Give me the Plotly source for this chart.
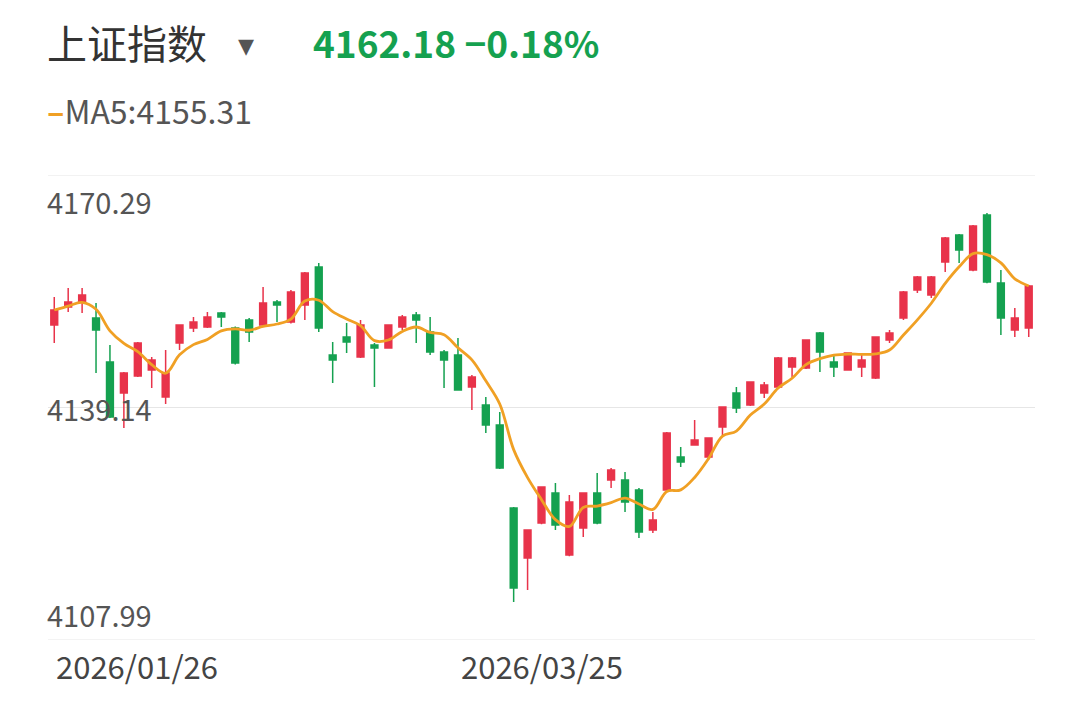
import pandas as pd
import plotly.graph_objects as go

# daily OHLC (71 trading days)
opens = [4150.19, 4152.60, 4153.27, 4151.13, 4145.23, 4141.08, 4143.36, 4144.16, 4140.54, 4147.78,
         4149.79, 4149.92, 4151.80, 4149.79, 4150.86, 4150.19, 4153.27, 4150.59, 4152.87, 4157.96,
         4146.17, 4148.58, 4145.90, 4147.51, 4147.11, 4149.92, 4151.53, 4149.25, 4146.57, 4146.17,
         4141.88, 4139.47, 4136.79, 4125.67, 4118.97, 4123.66, 4127.68, 4119.37, 4122.99, 4127.68,
         4129.42, 4129.42, 4128.08, 4122.72, 4128.08, 4132.50, 4134.11, 4132.50, 4136.52, 4141.08,
         4139.47, 4141.08, 4141.88, 4144.56, 4144.43, 4149.12, 4145.23, 4144.16, 4144.56, 4143.09,
         4148.18, 4151.13, 4154.88, 4154.21, 4158.63, 4162.25, 4157.56, 4164.93, 4155.82, 4149.52,
         4149.79]
highs = [4153.94, 4155.15, 4155.15, 4153.14, 4147.51, 4143.89, 4147.91, 4145.90, 4146.84, 4150.19,
         4151.26, 4151.93, 4151.93, 4150.00, 4151.13, 4155.28, 4153.54, 4154.88, 4157.29, 4158.50,
         4147.91, 4150.46, 4150.86, 4147.78, 4150.30, 4151.53, 4151.93, 4151.26, 4146.84, 4148.45,
         4143.49, 4140.54, 4138.53, 4125.80, 4122.80, 4128.60, 4129.02, 4127.41, 4127.80, 4130.36,
         4131.03, 4130.49, 4128.35, 4125.13, 4135.85, 4133.84, 4137.46, 4135.15, 4139.30, 4141.88,
         4142.65, 4142.55, 4145.90, 4145.90, 4148.30, 4149.25, 4146.17, 4146.55, 4146.17, 4148.70,
         4149.52, 4154.75, 4156.75, 4156.76, 4161.98, 4162.40, 4163.59, 4165.20, 4157.56, 4152.47,
         4155.55]
lows = [4147.78, 4151.93, 4151.80, 4143.76, 4137.73, 4136.39, 4143.22, 4141.75, 4139.60, 4146.84,
        4149.25, 4149.79, 4149.92, 4144.90, 4147.91, 4149.92, 4150.59, 4150.40, 4150.86, 4149.25,
        4142.42, 4146.44, 4145.77, 4141.88, 4147.00, 4149.52, 4147.78, 4146.17, 4141.75, 4141.40,
        4138.80, 4135.72, 4130.90, 4113.07, 4114.68, 4123.50, 4122.72, 4119.20, 4121.78, 4123.50,
        4128.35, 4125.13, 4121.65, 4122.32, 4127.95, 4131.16, 4134.00, 4132.37, 4135.45, 4138.40,
        4139.35, 4140.41, 4141.75, 4143.22, 4144.30, 4143.89, 4143.22, 4144.05, 4143.22, 4142.95,
        4147.78, 4150.86, 4154.48, 4153.81, 4157.29, 4158.50, 4157.40, 4155.80, 4148.85, 4148.58,
        4148.58]
closes = [4152.20, 4153.27, 4154.21, 4149.52, 4137.86, 4143.76, 4147.78, 4145.50, 4143.76, 4150.19,
          4150.59, 4151.26, 4151.26, 4145.10, 4149.25, 4153.14, 4152.87, 4154.61, 4157.16, 4149.79,
          4145.50, 4147.91, 4150.19, 4147.11, 4150.19, 4151.26, 4150.86, 4146.57, 4145.50, 4141.48,
          4143.22, 4136.79, 4131.03, 4114.95, 4122.72, 4128.48, 4123.39, 4126.47, 4127.68, 4123.66,
          4130.76, 4126.47, 4122.45, 4124.06, 4135.72, 4131.83, 4134.78, 4135.05, 4139.20, 4139.07,
          4142.55, 4142.15, 4145.77, 4145.77, 4148.18, 4146.57, 4144.56, 4146.44, 4145.50, 4148.58,
          4149.12, 4154.61, 4156.62, 4156.62, 4161.85, 4160.24, 4163.46, 4155.95, 4151.13, 4151.13,
          4155.41]

y_ticks = [4170.29, 4139.14, 4107.99]
date_labels = ["2026/01/26", "2026/03/25"]
date_pos = [0, 35]

RED = "#e8334a"
GREEN = "#15a150"
ORANGE = "#f0a024"

idx = list(range(len(closes)))
ma5 = pd.Series(closes).rolling(5, min_periods=1).mean()

fig = go.Figure()
fig.add_trace(go.Candlestick(
    x=idx, open=opens, high=highs, low=lows, close=closes,
    increasing=dict(line=dict(color=RED, width=1.5), fillcolor=RED),
    decreasing=dict(line=dict(color=GREEN, width=1.5), fillcolor=GREEN),
    whiskerwidth=0, showlegend=False, hoverinfo="skip",
))
fig.add_trace(go.Scatter(
    x=idx, y=ma5, mode="lines", line=dict(color=ORANGE, width=2.8, shape="spline"),
    showlegend=False, hoverinfo="skip",
))

# horizontal guide lines
for v in y_ticks:
    fig.add_shape(type="line", xref="paper", x0=0, x1=1, yref="y", y0=v, y1=v,
                  line=dict(color="#e6e6e6", width=1), layer="below")

# y labels: top below its line, middle centred, bottom above
for v, anchor in zip(y_ticks, ["top", "middle", "bottom"]):
    fig.add_annotation(xref="paper", x=0, y=v, yref="y", text=str(v), showarrow=False,
                       xanchor="left", yanchor=anchor, xshift=-3,
                       yshift=-3 if anchor == "top" else (3 if anchor == "bottom" else 0),
                       font=dict(size=29, color="#555555"))

for p, lab, anc in zip(date_pos, date_labels, ["left", "center"]):
    fig.add_annotation(x=p, xref="x", y=0, yref="paper", text=lab, showarrow=False,
                       xanchor=anc, yanchor="top", yshift=-1, xshift=0 if anc == "left" else 0,
                       font=dict(size=31, color="#444444"))

# header
fig.add_annotation(xref="paper", yref="paper", x=0, y=1, yshift=133, xanchor="left", yanchor="middle",
                   text="上证指数", showarrow=False, xshift=-3, font=dict(size=40, color="#333333"))
fig.add_annotation(xref="paper", yref="paper", x=0.19, y=1, yshift=133, xanchor="left", yanchor="middle",
                   text="▾", showarrow=False, font=dict(size=32, color="#555555"))
fig.add_annotation(xref="paper", yref="paper", x=0.266, y=1, yshift=133, xanchor="left", yanchor="middle",
                   text="<b>4162.18 −0.18%</b>", showarrow=False, font=dict(size=37, color=GREEN))
fig.add_annotation(xref="paper", yref="paper", x=0, y=1, yshift=65, xanchor="left", yanchor="middle",
                   text="<span style='color:%s'><b>–</b></span>MA5:4155.31" % ORANGE, showarrow=False,
                   xshift=-3, font=dict(size=32, color="#555555"))

fig.update_layout(
    width=1081, height=701,
    paper_bgcolor="white", plot_bgcolor="white",
    margin=dict(l=40, r=54, t=167, b=69),
    font=dict(family="Noto Sans CJK SC, Roboto, Arial, sans-serif"),
    xaxis=dict(range=[-0.45, 70.45], showgrid=False, showticklabels=False, zeroline=False,
               rangeslider=dict(visible=False)),
    yaxis=dict(range=[4107.99, 4170.29], showgrid=False, showticklabels=False, zeroline=False),
)

fig.write_html("out.html")
